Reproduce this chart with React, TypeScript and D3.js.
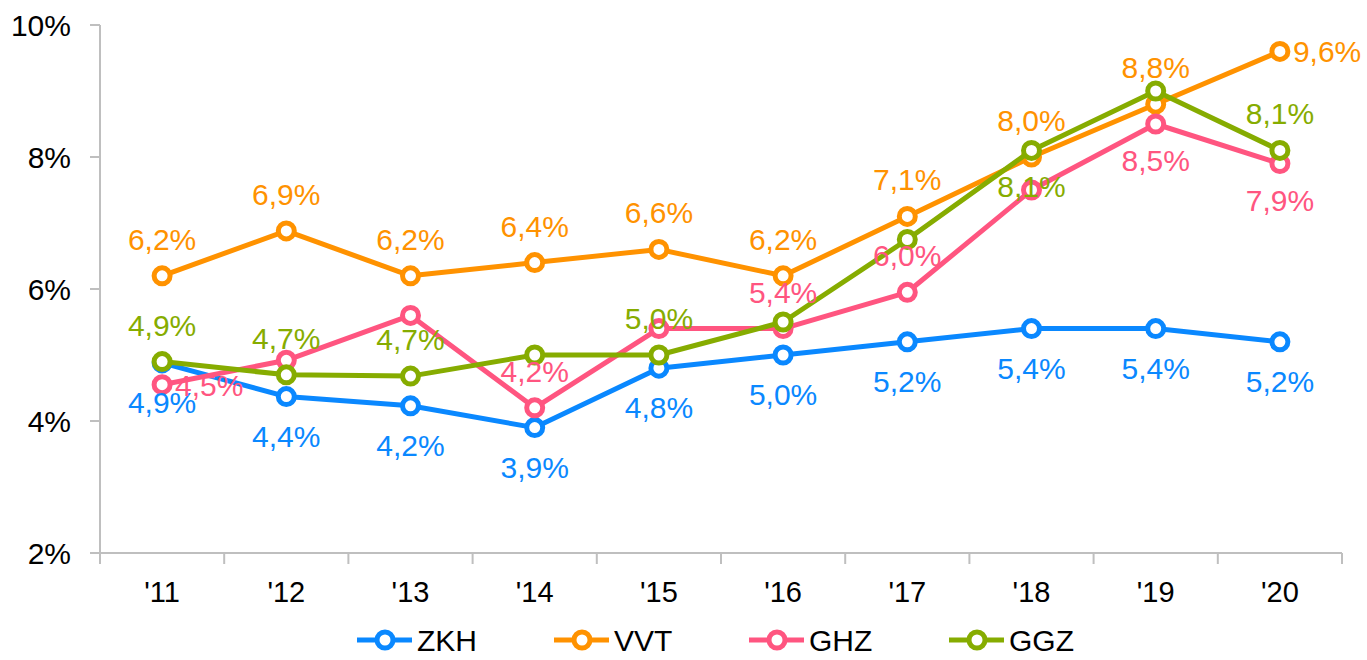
import React from "react";
import * as d3 from "d3";

const years = ["'11", "'12", "'13", "'14", "'15", "'16", "'17", "'18", "'19", "'20"];
const yTicks = [2, 4, 6, 8, 10];

const zkh = [4.88, 4.37, 4.23, 3.9, 4.8, 5.0, 5.2, 5.4, 5.4, 5.2];
const vvt = [6.2, 6.88, 6.2, 6.4, 6.6, 6.2, 7.1, 8.0, 8.8, 9.6];
const ghz = [4.55, 4.92, 5.6, 4.2, 5.4, 5.4, 5.95, 7.5, 8.5, 7.9];
const ggz = [4.9, 4.7, 4.68, 5.0, 5.0, 5.5, 6.75, 8.1, 9.0, 8.1];

// label text per point, with where it sits: t = above, b = below, r = right, "" = none
const zkhLabels = ["4,9%", "4,4%", "4,2%", "3,9%", "4,8%", "5,0%", "5,2%", "5,4%", "5,4%", "5,2%"];
const zkhPos = ["b", "b", "b", "b", "b", "b", "b", "b", "b", "b"];
const vvtLabels = ["6,2%", "6,9%", "6,2%", "6,4%", "6,6%", "6,2%", "7,1%", "8,0%", "8,8%", "9,6%"];
const vvtPos = ["t", "t", "t", "t", "t", "t", "t", "t", "t", "r"];
const ghzLabels = ["4,5%", "4,9%", "5,6%", "4,2%", "5,4%", "5,4%", "6,0%", "7,5%", "8,5%", "7,9%"];
const ghzPos = ["r", "", "", "t", "", "t", "t", "", "b", "b"];
const ggzLabels = ["4,9%", "4,7%", "4,7%", "5,0%", "5,0%", "5,5%", "6,7%", "8,1%", "9,0%", "8,1%"];
const ggzPos = ["t", "t", "t", "", "t", "", "", "b", "", "t"];

const series = [
  { name: "ZKH", color: "#0a88ff", values: zkh, labels: zkhLabels, pos: zkhPos },
  { name: "VVT", color: "#ff9200", values: vvt, labels: vvtLabels, pos: vvtPos },
  { name: "GHZ", color: "#ff5580", values: ghz, labels: ghzLabels, pos: ghzPos },
  { name: "GGZ", color: "#86ac00", values: ggz, labels: ggzLabels, pos: ggzPos },
];

const W = 1367;
const H = 660;
const margin = { top: 25, right: 25, bottom: 107, left: 100 };
const font = "'Liberation Sans', Arial, sans-serif";
const axisColor = "#bfbfbf";

export default function App() {
  const x = d3
    .scaleBand()
    .domain(years)
    .range([margin.left, W - margin.right]);
  const y = d3
    .scaleLinear()
    .domain([2, 10])
    .range([H - margin.bottom, margin.top]);
  const cx = (d: string) => (x(d) as number) + x.bandwidth() / 2;
  const line = d3
    .line<number>()
    .x((_, i) => cx(years[i]))
    .y((v) => y(v));

  const labelXY = (p: string, px: number, py: number) => {
    if (p === "t") return { x: px, y: py - 26, anchor: "middle" };
    if (p === "r") return { x: px + 13, y: py + 11, anchor: "start" };
    return { x: px, y: py + 47, anchor: "middle" };
  };

  const bottom = y(2);
  const boundaries = years.map((d) => x(d) as number).concat([W - margin.right]);

  const legendX = [357, 554, 749, 949];

  return (
    <svg
      width={W}
      height={H}
      style={{ position: "absolute", left: 0, top: 0, fontFamily: font }}
    >
      <rect width={W} height={H} fill="#fff" />
      {/* y axis */}
      <line x1={margin.left} x2={margin.left} y1={y(10)} y2={bottom} stroke={axisColor} strokeWidth={2} />
      {yTicks.map((t) => (
        <g key={t}>
          <line x1={margin.left - 10} x2={margin.left} y1={y(t)} y2={y(t)} stroke={axisColor} strokeWidth={2} />
          <text x={71} y={y(t) + 11} textAnchor="end" fontSize={30} fill="#000">
            {t}%
          </text>
        </g>
      ))}
      {/* x axis */}
      <line x1={margin.left - 10} x2={W - margin.right} y1={bottom} y2={bottom} stroke={axisColor} strokeWidth={2} />
      {boundaries.map((bx, i) => (
        <line key={i} x1={bx} x2={bx} y1={bottom} y2={bottom + 11} stroke={axisColor} strokeWidth={2} />
      ))}
      {years.map((d) => (
        <text key={d} x={cx(d)} y={602} textAnchor="middle" fontSize={29} fill="#000">
          {d}
        </text>
      ))}
      {/* series */}
      {series.map((s) => (
        <g key={s.name}>
          <path d={line(s.values) || ""} fill="none" stroke={s.color} strokeWidth={5} strokeLinejoin="round" />
          {s.values.map((v, i) => (
            <circle key={i} cx={cx(years[i])} cy={y(v)} r={8} fill="#fff" stroke={s.color} strokeWidth={5} />
          ))}
        </g>
      ))}
      {/* data labels */}
      {series.map((s) => (
        <g key={s.name + "-lab"}>
          {s.values.map((v, i) => {
            if (!s.pos[i]) return null;
            const l = labelXY(s.pos[i], cx(years[i]), y(v));
            const dyExtra = s.name === "ZKH" ? 3 : 0;
            return (
              <text key={i} x={l.x} y={l.y + dyExtra} textAnchor={l.anchor} fontSize={30} fill={s.color}>
                {s.labels[i]}
              </text>
            );
          })}
        </g>
      ))}
      {/* legend */}
      {series.map((s, i) => (
        <g key={s.name + "-leg"} transform={`translate(${legendX[i]},640)`}>
          <line x1={0} x2={55} y1={0} y2={0} stroke={s.color} strokeWidth={5} />
          <circle cx={28} cy={0} r={8} fill="#fff" stroke={s.color} strokeWidth={5} />
          <text x={60} y={11} fontSize={30} fill="#000">
            {s.name}
          </text>
        </g>
      ))}
    </svg>
  );
}
